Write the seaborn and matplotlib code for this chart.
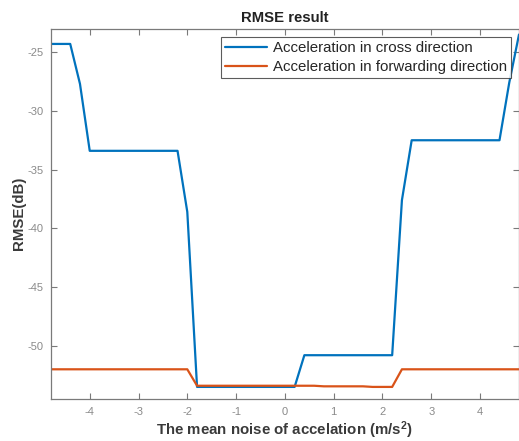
import matplotlib
matplotlib.use("Agg")
import matplotlib.pyplot as plt
import seaborn as sns
import pandas as pd

sns.set_style("white")
plt.rcParams["font.family"] = ["Liberation Sans", "DejaVu Sans"]
plt.rcParams["mathtext.fontset"] = "custom"
plt.rcParams["mathtext.bf"] = "Liberation Sans:bold"
plt.rcParams["mathtext.rm"] = "Liberation Sans"
plt.rcParams["axes.unicode_minus"] = False

# mean noise of acceleration (m/s^2)
noise = [-4.8, -4.6, -4.4, -4.2, -4.0, -3.8, -3.6, -3.4, -3.2, -3.0,
         -2.8, -2.6, -2.4, -2.2, -2.0, -1.8, -1.6, -1.4, -1.2, -1.0,
         -0.8, -0.6, -0.4, -0.2, 0.0, 0.2, 0.4, 0.6, 0.8, 1.0,
         1.2, 1.4, 1.6, 1.8, 2.0, 2.2, 2.4, 2.6, 2.8, 3.0,
         3.2, 3.4, 3.6, 3.8, 4.0, 4.2, 4.4, 4.6, 4.8]

# RMSE (dB), cross direction
rmse_cross = [-24.3, -24.3, -24.3, -27.7, -33.4, -33.4, -33.4, -33.4, -33.4, -33.4,
              -33.4, -33.4, -33.4, -33.4, -38.6, -53.5, -53.5, -53.5, -53.5, -53.5,
              -53.5, -53.5, -53.5, -53.5, -53.5, -53.5, -50.8, -50.8, -50.8, -50.8,
              -50.8, -50.8, -50.8, -50.8, -50.8, -50.8, -37.6, -32.5, -32.5, -32.5,
              -32.5, -32.5, -32.5, -32.5, -32.5, -32.5, -32.5, -27.6, -23.5]

# RMSE (dB), forwarding direction
rmse_forward = [-52.0, -52.0, -52.0, -52.0, -52.0, -52.0, -52.0, -52.0, -52.0, -52.0,
                -52.0, -52.0, -52.0, -52.0, -52.0, -53.4, -53.4, -53.4, -53.4, -53.4,
                -53.4, -53.4, -53.4, -53.4, -53.4, -53.4, -53.4, -53.4, -53.45, -53.45,
                -53.45, -53.45, -53.45, -53.5, -53.5, -53.5, -52.0, -52.0, -52.0, -52.0,
                -52.0, -52.0, -52.0, -52.0, -52.0, -52.0, -52.0, -52.0, -52.0]

labels = ["Acceleration in cross direction", "Acceleration in forwarding direction"]
colors = ["#0072BD", "#D95319"]

df = pd.DataFrame({"noise": noise, "cross": rmse_cross, "forward": rmse_forward})

fig = plt.figure(figsize=(5.19, 4.41), dpi=100)
ax = fig.add_axes([0.0977, 0.096, 0.9023, 0.839])

sns.lineplot(data=df, x="noise", y="cross", ax=ax, color=colors[0], lw=1.6,
             label=labels[0], sort=False)
sns.lineplot(data=df, x="noise", y="forward", ax=ax, color=colors[1], lw=1.6,
             label=labels[1], sort=False)

ax.set_xlim(-4.8, 4.8)
ax.set_ylim(-54.5, -23)
ax.set_xticks([-4, -3, -2, -1, 0, 1, 2, 3, 4])
ax.set_yticks([-50, -45, -40, -35, -30, -25])

axis_grey = "#7a7a7a"
for s in ax.spines.values():
    s.set_visible(True)
    s.set_color(axis_grey)
    s.set_linewidth(0.9)
ax.tick_params(direction="in", length=4, width=0.8, color=axis_grey,
               labelcolor="#8a8a8a", labelsize=8, top=True, right=True,
               bottom=True, left=True, pad=6)
ax.tick_params(axis="y", pad=5)

ax.set_title("RMSE result", fontsize=10.7, fontweight="bold", color="#222222", pad=5)
ax.set_xlabel(r"The mean noise of accelation (m/s$\mathbf{^2}$)", fontsize=10.8,
              fontweight="bold", color="#3a3a3a", labelpad=1.5)
ax.set_ylabel("RMSE(dB)", fontsize=10.8, fontweight="bold", color="#3a3a3a", labelpad=1)

leg = ax.legend(loc="upper right", bbox_to_anchor=(0.983, 0.978), fontsize=10.8,
                frameon=True, fancybox=False, borderpad=0.28, labelspacing=0.32,
                handlelength=2.8, handletextpad=0.35, borderaxespad=0.0)
leg.get_frame().set_edgecolor("#333333")
leg.get_frame().set_linewidth(0.8)
for t in leg.get_texts():
    t.set_color("#262626")

fig.savefig("out.png", dpi=100)
